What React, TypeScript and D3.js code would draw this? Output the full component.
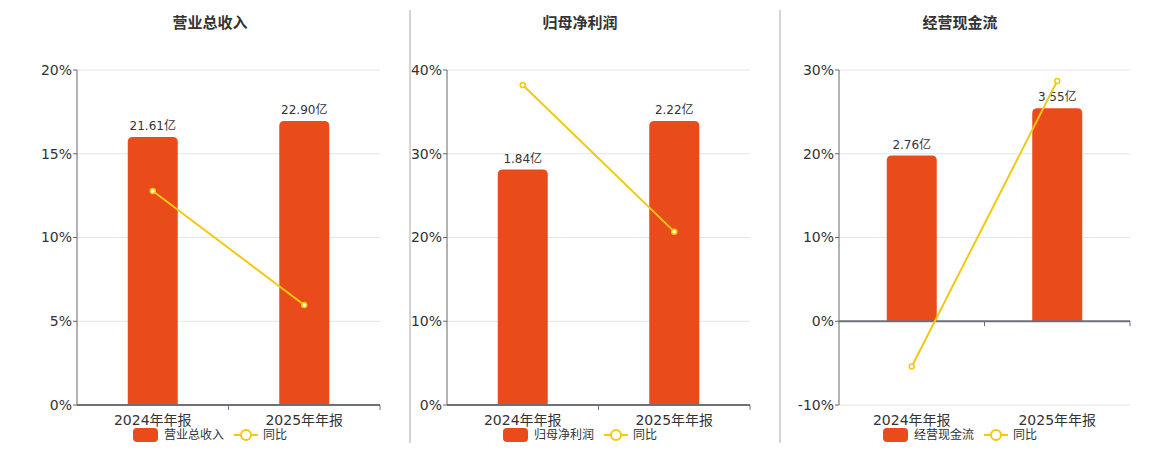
import * as d3 from 'd3';
import { type FC } from 'react';

const categories = ['2024年年报', '2025年年报'];
const titles = ['营业总收入', '归母净利润', '经营现金流'];

const revenue = [21.61, 22.9];
const revenueYoY = [12.78, 5.97];
const profit = [1.84, 2.22];
const profitYoY = [38.2, 20.7];
const cashFlow = [2.76, 3.55];
const cashFlowYoY = [-5.4, 28.7];

const revenueTicks = [0, 5, 10, 15, 20];
const profitTicks = [0, 10, 20, 30, 40];
const cashFlowTicks = [-10, 0, 10, 20, 30];

const BAR_COLOR = '#E94B1B';
const LINE_COLOR = '#F2C811';
const TEXT = '#333';
const FONT = '"DejaVu Sans", "Noto Sans CJK SC", sans-serif';

type PanelProps = {
  title: string;
  bars: number[];
  yoy: number[];
  ticks: number[];
  left: number;
  right: number;
  center: number;
};

const top = 70;
const bottom = 405;

const roundTop = (x: number, y: number, w: number, h: number, r: number) => {
  const rr = Math.min(r, h);
  return `M${x},${y + h}V${y + rr}Q${x},${y} ${x + rr},${y}H${x + w - rr}Q${x + w},${y} ${x + w},${y + rr}V${y + h}Z`;
};

const Panel: FC<PanelProps> = ({ title, bars, yoy, ticks, left, right, center }) => {
  const x = d3.scaleBand(categories, [left, right]);
  const y = d3.scaleLinear(d3.extent(ticks) as [number, number], [bottom, top]);
  const zeroY = y(0);
  const barMax = (d3.max(bars) as number) / 0.848;
  const yBar = d3.scaleLinear([0, barMax], [zeroY, top]);
  const barW = 50;
  const cx = (c: string) => (x(c) as number) + x.bandwidth() / 2;
  const line = d3.line<number>((_d, i) => cx(categories[i]), (d) => y(d));

  return (
    <g fontFamily={FONT}>
      <text x={center} y={28} textAnchor='middle' fontSize={15} fontWeight='bold' fill={TEXT}>
        {title}
      </text>
      {ticks.map((t) => (
        <g key={t}>
          {t !== 0 || ticks[0] === 0 ? null : null}
          <line x1={left} x2={right} y1={y(t)} y2={y(t)} stroke='#E0E4EC' strokeWidth={1} />
          <line x1={left - 4} x2={left} y1={y(t)} y2={y(t)} stroke='#666' strokeWidth={1} />
          <text x={left - 5} y={y(t)} dy='0.35em' textAnchor='end' fontSize={14} fill={TEXT}>
            {`${t}%`}
          </text>
        </g>
      ))}
      <line x1={left} x2={left} y1={top} y2={bottom} stroke='#666' strokeWidth={1} />
      {categories.map((c, i) => {
        const h = zeroY - yBar(bars[i]);
        return (
          <g key={c}>
            <path d={roundTop(cx(c) - barW / 2, yBar(bars[i]), barW, h, 5)} fill={BAR_COLOR} />
            <text x={cx(c)} y={yBar(bars[i]) - 7} textAnchor='middle' fontSize={12} fill={TEXT}>
              {`${bars[i].toFixed(2)}亿`}
            </text>
            <text x={cx(c)} y={425} textAnchor='middle' fontSize={14} fill={TEXT}>
              {c}
            </text>
          </g>
        );
      })}
      <line x1={left} x2={right} y1={zeroY} y2={zeroY} stroke='#6E7079' strokeWidth={2} />
      {[left + x.bandwidth(), right].map((tx) => (
        <line key={tx} x1={tx} x2={tx} y1={zeroY} y2={zeroY + 5} stroke='#6E7079' strokeWidth={1} />
      ))}
      <path d={line(yoy) ?? undefined} fill='none' stroke={LINE_COLOR} strokeWidth={2} />
      {yoy.map((d, i) => (
        <circle key={i} cx={cx(categories[i])} cy={y(d)} r={2.5} fill='#fff' stroke={LINE_COLOR} strokeWidth={1.5} />
      ))}
      <g transform={`translate(${center - 77},428)`}>
        <rect x={0} y={0} width={25} height={14} rx={4} fill={BAR_COLOR} />
        <text x={31} y={7} dy='0.35em' fontSize={12} fill={TEXT}>
          {title}
        </text>
        <line x1={101} x2={125} y1={7} y2={7} stroke={LINE_COLOR} strokeWidth={2} />
        <circle cx={113} cy={7} r={5} fill='#fff' stroke={LINE_COLOR} strokeWidth={2} />
        <text x={130} y={7} dy='0.35em' fontSize={12} fill={TEXT}>
          同比
        </text>
      </g>
    </g>
  );
};

const App: FC = () => (
  <svg
    width={1160}
    height={450}
    viewBox='0 0 1160 450'
    style={{ position: 'absolute', left: 0, top: 0, background: '#fff' }}
  >
    <Panel title={titles[0]} bars={revenue} yoy={revenueYoY} ticks={revenueTicks} left={77} right={380} center={210} />
    <Panel title={titles[1]} bars={profit} yoy={profitYoY} ticks={profitTicks} left={447} right={750} center={580} />
    <Panel title={titles[2]} bars={cashFlow} yoy={cashFlowYoY} ticks={cashFlowTicks} left={839} right={1130} center={960} />
    {[410, 780].map((sx) => (
      <line key={sx} x1={sx} x2={sx} y1={10} y2={443} stroke='#AAA' strokeWidth={1} />
    ))}
  </svg>
);

export default App;
